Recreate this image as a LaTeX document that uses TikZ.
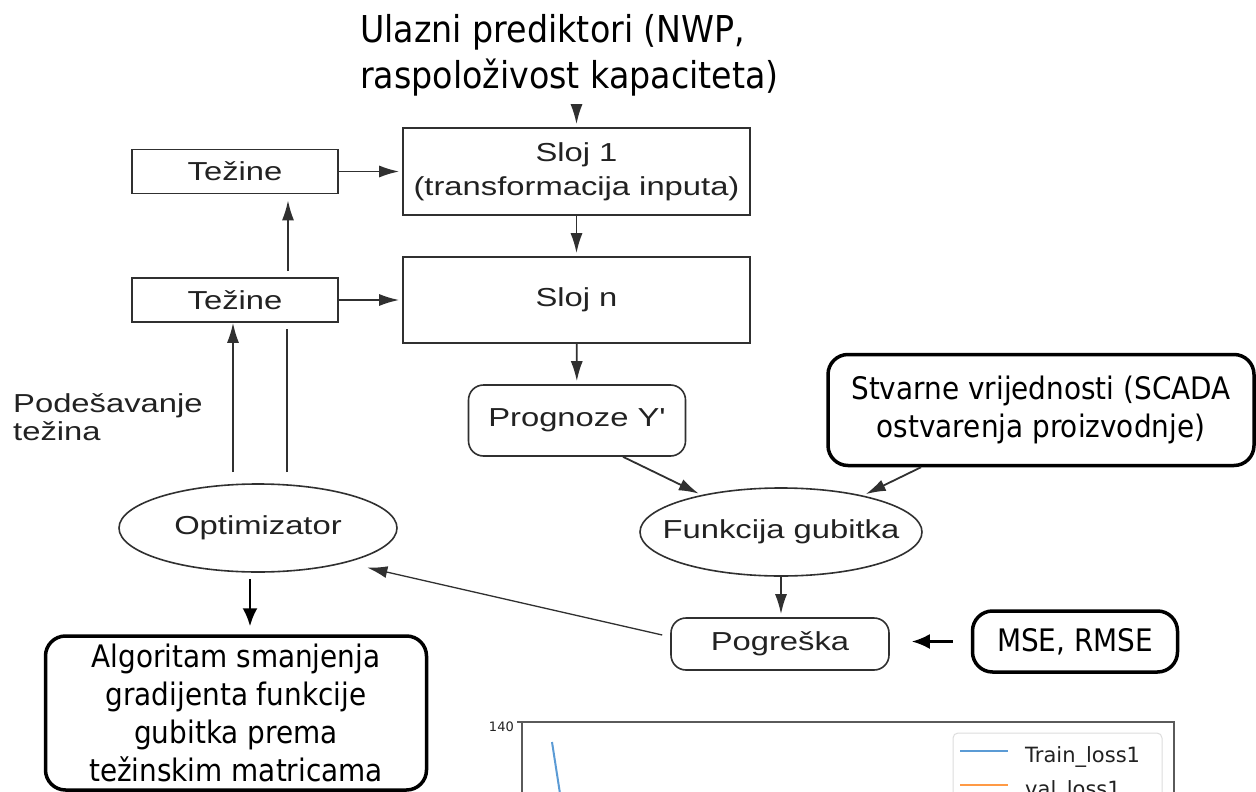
\documentclass[tikz,border=0pt]{standalone}
\usepackage{fontspec}
\usepackage{tikz}
\usetikzlibrary{arrows.meta,shapes.geometric,calc}
\newfontfamily\diafont{Liberation Sans}[FakeStretch=1.26]
\newfontfamily\notefont{DejaVu Sans}[FakeStretch=0.9]
\newfontfamily\plotfont{DejaVu Sans}
\definecolor{Ink}{HTML}{222222}
\definecolor{LineGray}{HTML}{303030}
\definecolor{AxisGray}{HTML}{5A5A5A}
\definecolor{FrameGray}{HTML}{DDDDDD}
\definecolor{TrainBlue}{HTML}{5B9BD5}
\definecolor{ValOrange}{HTML}{FF9A45}

\begin{document}
\begin{tikzpicture}[x=1pt, y=-1pt, >={Latex[length=20pt,width=12pt]}]
\tikzset{layer/.style={draw=LineGray, line width=1.6pt, inner sep=0pt, align=center, text=Ink, font=\diafont\fontsize{26}{34}\selectfont, minimum width=347pt, minimum height=87pt}, wbox/.style={layer, minimum width=206pt, minimum height=44pt}, rbox/.style={layer, rounded corners=15pt, minimum width=217pt}, oval/.style={layer, ellipse, minimum width=278pt, minimum height=88pt}, note/.style={draw=black, line width=3.5pt, rounded corners=20pt, inner sep=0pt, align=center, font=\notefont\fontsize{31}{38}\selectfont}, flow/.style={->, line width=1.8pt, LineGray, shorten >=3pt}, heavy/.style={-{Latex[length=18pt,width=15pt]}, line width=2.5pt, black}}
\useasboundingbox (0,0) rectangle (1256,792);
\clip (0,0) rectangle (1256,792);
\fill[white] (0,0) rectangle (1256,792);
\node[layer] (sloj1) at (576.5,171.5) {Sloj 1\\(transformacija inputa)};
\node[layer, minimum height=86pt] (slojn) at (576.5,300) {Sloj n};
\node[wbox] (tez1) at (235,171.5) {Težine};
\node[wbox] (tez2) at (235,300) {Težine};
\node[rbox, minimum height=71pt] (prognoze) at (577,420.5) {Prognoze Y'};
\node[oval] (opt) at (258,528) {\makebox[0pt]{Optimizator}};
\node[oval, minimum width=282pt] (gubitak) at (781,532) {\makebox[0pt]{Funkcija gubitka}};
\node[rbox, minimum width=218pt, minimum height=52pt] (pogreska) at (780,644) {Pogreška};
\node[note, minimum width=426pt, minimum height=111pt] (stvarne) at (1041,410) {Stvarne vrijednosti (SCADA\\ostvarenja proizvodnje)};
\node[note, minimum width=205pt, minimum height=61pt] (mse) at (1075,641.5) {MSE, RMSE};
\node[note, minimum width=381pt, minimum height=154pt] (alg) at (236,713) {Algoritam smanjenja\\gradijenta funkcije\\gubitka prema\\težinskim matricama};
\node[anchor=west, align=left, inner sep=0pt, font=\notefont\fontsize{37}{46}\selectfont] (ulaz) at (360,55) {Ulazni prediktori (NWP,\\raspoloživost kapaciteta)};
\node[anchor=west, align=left, inner sep=0pt, text=Ink, font=\diafont\fontsize{26}{28}\selectfont] (podesavanje) at (13,417) {Podešavanje\\težina};
\draw[flow, shorten <=9pt] (ulaz.south -| sloj1.north) -- (sloj1.north); \draw[flow] (tez1) -- (sloj1); \draw[flow] (tez2) -- (slojn); \draw[flow] (sloj1) -- (slojn); \draw[flow] (slojn) -- (prognoze);
\draw[flow] ([xshift=46pt]prognoze.south) -- (gubitak.155); \draw[flow] ([xshift=-120pt]stvarne.south) -- (gubitak.24); \draw[flow] (gubitak.south) -- (gubitak.south |- pogreska.north);
\draw[->, line width=1.3pt, LineGray] ([xshift=-8pt,yshift=9pt]pogreska.west) -- ([xshift=17pt,yshift=-6pt]opt.-20);
\draw[flow, shorten >=0pt] ([xshift=-25pt,yshift=11pt]opt.north) -- ([xshift=-25pt]opt.north |- tez2.south); \draw[line width=1.8pt, LineGray, shorten >=6pt] ([xshift=29pt,yshift=11pt]opt.north) -- ([xshift=29pt]opt.north |- tez2.south); \draw[flow, shorten <=6pt, shorten >=6pt] ([xshift=53pt]tez2.north) -- ([xshift=53pt]tez1.south);
\draw[heavy, shorten <=6pt, shorten >=8pt] ([xshift=-8pt]opt.south) -- ([xshift=-8pt]opt.south |- alg.north); \draw[heavy, shorten <=18pt, shorten >=22pt] (mse.west) -- (mse.west -| pogreska.east);
\draw[AxisGray, line width=1.3pt] (522,800) -- (522,722) -- (1174,722) -- (1174,800); \draw[AxisGray, line width=1.3pt] (517,722) -- (522,722);
\node[anchor=east, inner sep=0pt, text=Ink, font=\plotfont\fontsize{13}{15}\selectfont] (t140) at (514,727) {140};
\draw[TrainBlue, line width=2pt] (552,742) -- (561,800);
\draw[FrameGray, line width=1pt, rounded corners=5pt] (953,800) -- (953,733) -- (1162,733) -- (1162,800);
\draw[TrainBlue, line width=2pt] (960,751) -- (1008,751); \draw[ValOrange, line width=2pt] (960,785) -- (1008,785);
\node[anchor=base west, inner sep=0pt, text=Ink, font=\plotfont\fontsize{21}{24}\selectfont] (trainlbl) at (1025,762) {Train\_loss1};
\node[anchor=base west, inner sep=0pt, text=Ink, font=\plotfont\fontsize{21}{24}\selectfont] (vallbl) at (1025,796) {val\_loss1};
\end{tikzpicture}
\end{document}
